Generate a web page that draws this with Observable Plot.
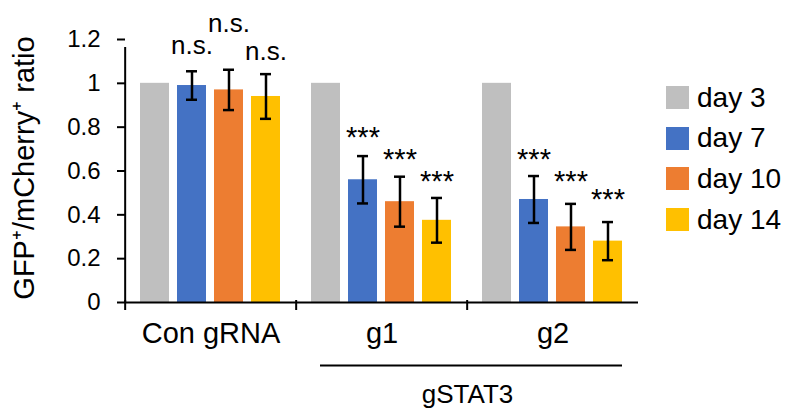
<!DOCTYPE html>
<html><head><meta charset="utf-8">
<script src="https://cdn.jsdelivr.net/npm/d3@7"></script>
<script src="https://cdn.jsdelivr.net/npm/@observablehq/plot@0.6"></script>
<style>
body{margin:0;background:#fff;}
#wrap{position:relative;width:789px;height:409px;font-family:"Liberation Sans",Arial,sans-serif;color:#000;}
#legend{position:absolute;left:666px;top:86px;}
.lg-row{display:flex;align-items:center;height:23px;margin-bottom:17.7px;font-size:28px;}
.lg-sw{width:23px;height:23px;margin-right:8px;flex:none;}
</style></head><body><div id="wrap"></div>
<script>
const groups = ["Con gRNA", "g1", "g2"];
const days = ["day 3", "day 7", "day 10", "day 14"];
const colors = ["#bfbfbf", "#4472c4", "#ed7d31", "#ffc000"];
const meanCon = [1, 0.99, 0.97, 0.94];
const meanG1 = [1, 0.56, 0.46, 0.375];
const meanG2 = [1, 0.47, 0.345, 0.28];
const errCon = [null, 0.065, 0.092, 0.102];
const errG1 = [null, 0.108, 0.114, 0.102];
const errG2 = [null, 0.107, 0.105, 0.087];
const sigCon = [null, "n.s.", "n.s.", "n.s."];
const sigG1 = [null, "***", "***", "***"];
const sigG2 = [null, "***", "***", "***"];
const sigYCon = [null, 1.170, 1.271, 1.143];
const sigYG1 = [null, 0.753, 0.652, 0.552];
const sigYG2 = [null, 0.652, 0.552, 0.470];
const yTicks = [0, 0.2, 0.4, 0.6, 0.8, 1, 1.2];
const yTickLabels = ["0", "0.2", "0.4", "0.6", "0.8", "1", "1.2"];
const yLabel = "GFP\u207A/mCherry\u207A ratio";
const superLabel = "gSTAT3";
const superGroups = ["g1", "g2"];

const means = [meanCon, meanG1, meanG2];
const errs = [errCon, errG1, errG2];
const sigs = [sigCon, sigG1, sigG2];
const sigYs = [sigYCon, sigYG1, sigYG2];
const rows = [];
groups.forEach((g, gi) => days.forEach((d, di) => rows.push({
  group: g, day: d, mean: means[gi][di], err: errs[gi][di], sig: sigs[gi][di], sigY: sigYs[gi][di]
})));
const errRows = rows.filter(r => r.err != null);
const nsRows = rows.filter(r => r.sig === "n.s.");
const starRows = rows.filter(r => r.sig === "***");

const W = 789, H = 409, ML = 124, MR = 150, MT = 39, MB = 107;
const fxBand = (W - ML - MR) / groups.length;
const font = "'Liberation Sans', Arial, sans-serif";

const chart = Plot.plot({
  width: W, height: H,
  marginLeft: ML, marginRight: MR, marginTop: MT, marginBottom: MB,
  style: {fontFamily: font, color: "#000", background: "#fff", overflow: "visible"},
  fx: {domain: groups, padding: 0, label: null},
  x: {domain: days, paddingInner: 0.21, paddingOuter: 0.4, axis: null},
  y: {domain: [0, 1.2]},
  color: {domain: days, range: colors},
  marks: [
    Plot.barY(rows, {fx: "group", x: "day", y: "mean", fill: "day"}),
    Plot.ruleX(errRows, {fx: "group", x: "day", y1: d => d.mean - d.err, y2: d => d.mean + d.err, stroke: "#000", strokeWidth: 2.5}),
    Plot.tickY(errRows, {fx: "group", x: "day", y: d => d.mean - d.err, stroke: "#000", strokeWidth: 2.5, insetLeft: 9, insetRight: 9}),
    Plot.tickY(errRows, {fx: "group", x: "day", y: d => d.mean + d.err, stroke: "#000", strokeWidth: 2.5, insetLeft: 9, insetRight: 9}),
    Plot.text(nsRows, {fx: "group", x: "day", y: "sigY", text: "sig", fontSize: 26, lineAnchor: "middle", fill: "#000"}),
    Plot.text(starRows, {fx: "group", x: "day", y: "sigY", text: "sig", fontSize: 29, lineAnchor: "middle", fill: "#000"}),
    Plot.ruleY([0], {stroke: "#000", strokeWidth: 2}),
    Plot.ruleX([groups[0]], {fx: d => d, x: null, y1: () => 0, y2: () => 1.2, insetBottom: -8, dx: -fxBand / 2, stroke: "#000", strokeWidth: 2}),
    Plot.ruleX(groups, {fx: d => d, x: null, y1: () => 0, y2: () => 0, insetBottom: -8, insetTop: -2, dx: -fxBand / 2, stroke: "#000", strokeWidth: 2}),
    Plot.axisY(yTicks, {tickSize: 8, tickPadding: 17, fontSize: 24, strokeWidth: 2, label: null,
      tickFormat: d => yTickLabels[yTicks.indexOf(d)]}),
    Plot.text([yLabel], {fx: () => groups[0], frameAnchor: "left", rotate: -90, dx: -101, dy: -3,
      fontSize: 29, textAnchor: "middle", lineAnchor: "middle", fill: "#000"}),
    Plot.axisFx({anchor: "bottom", tickSize: 0, tickPadding: 20, fontSize: 29, label: null}),
    Plot.ruleY([superGroups[0]], {fx: d => d, y: () => 0, dy: 63, insetLeft: 24, stroke: "#000", strokeWidth: 2}),
    Plot.ruleY([superGroups[1]], {fx: d => d, y: () => 0, dy: 63, insetRight: 16, stroke: "#000", strokeWidth: 2}),
    Plot.text([superGroups[1]], {fx: d => d, text: () => superLabel, frameAnchor: "bottom-left", dy: 92,
      fontSize: 26, textAnchor: "middle", lineAnchor: "middle", fill: "#000"})
  ]
});

const wrap = document.getElementById("wrap");
wrap.appendChild(chart);
const legend = document.createElement("div");
legend.id = "legend";
days.forEach((d, i) => {
  const row = document.createElement("div");
  row.className = "lg-row";
  const sw = document.createElement("div");
  sw.className = "lg-sw";
  sw.style.background = colors[i];
  const lab = document.createElement("span");
  lab.textContent = d;
  row.appendChild(sw); row.appendChild(lab);
  legend.appendChild(row);
});
wrap.appendChild(legend);
</script></body></html>
